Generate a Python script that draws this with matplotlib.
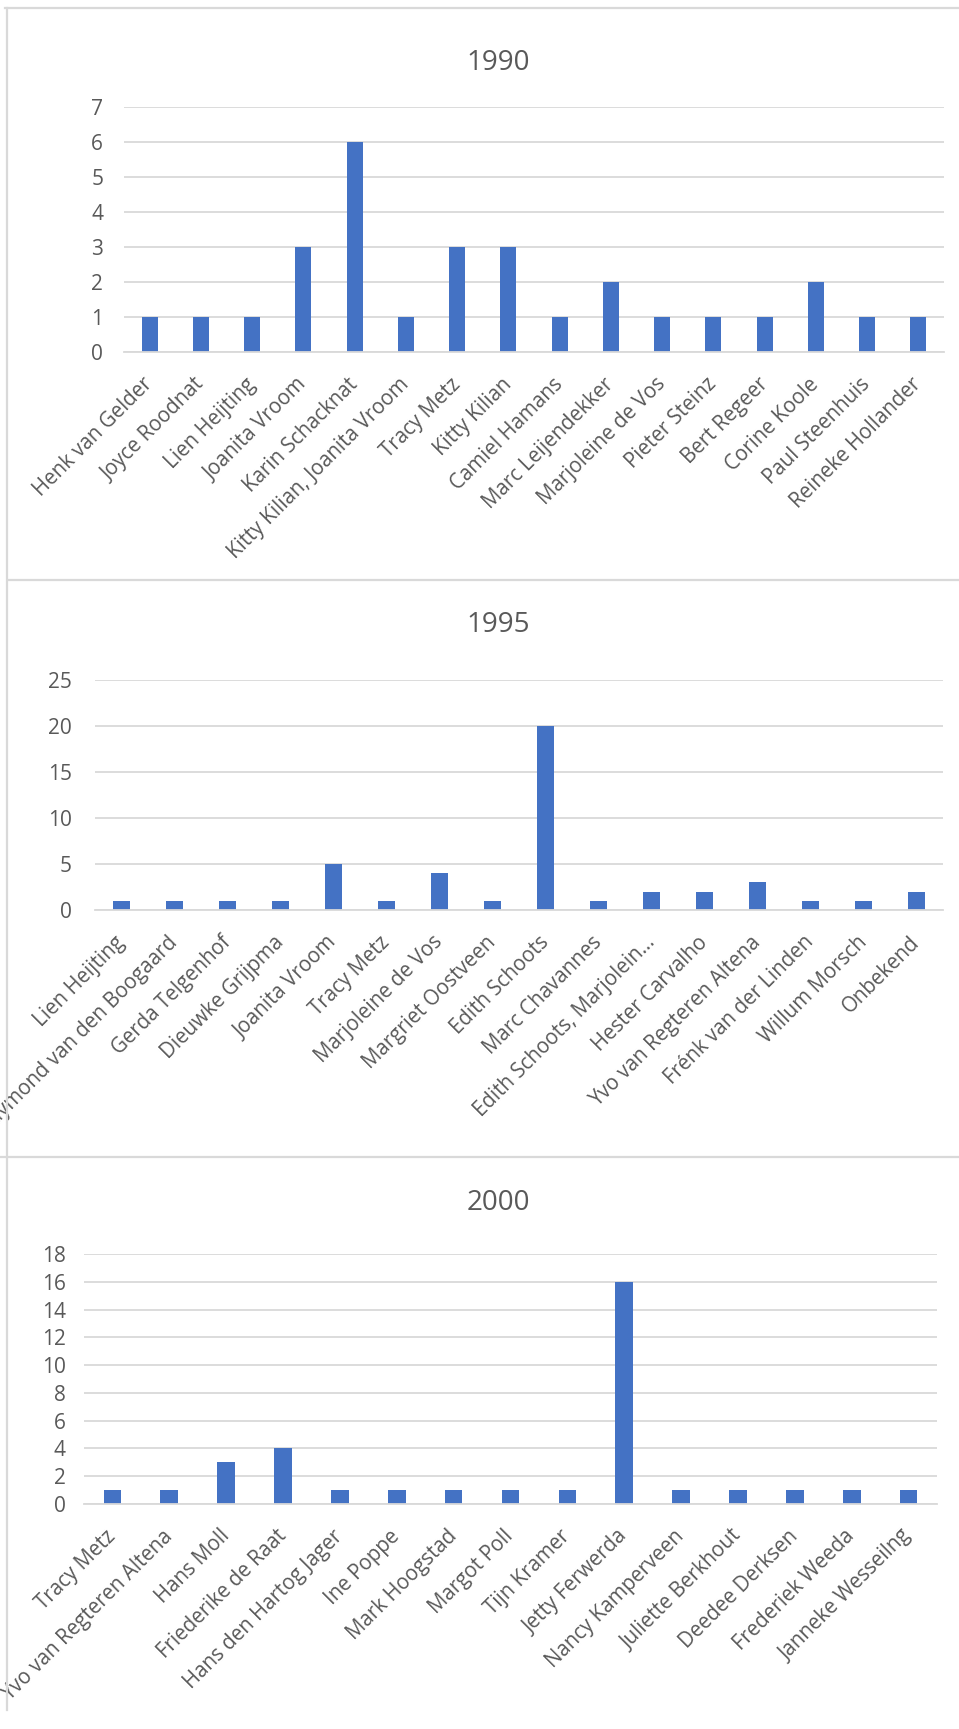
import matplotlib
matplotlib.use("Agg")
import matplotlib.pyplot as plt
from matplotlib.lines import Line2D
from matplotlib.transforms import ScaledTranslation

plt.rcParams['font.family'] = ['Open Sans', 'DejaVu Sans']

W, H = 959, 1729

# ---------------- data ----------------
names_1990 = ["Henk van Gelder", "Joyce Roodnat", "Lien Heijting", "Joanita Vroom",
              "Karin Schacknat", "Kitty Kilian, Joanita Vroom", "Tracy Metz", "Kitty Kilian",
              "Camiel Hamans", "Marc Leijendekker", "Marjoleine de Vos", "Pieter Steinz",
              "Bert Regeer", "Corine Koole", "Paul Steenhuis", "Reineke Hollander"]
vals_1990 = [1, 1, 1, 3, 6, 1, 3, 3, 1, 2, 1, 1, 1, 2, 1, 1]

names_1995 = ["Lien Heijting", "Raymond van den Boogaard", "Gerda Telgenhof", "Dieuwke Grijpma",
              "Joanita Vroom", "Tracy Metz", "Marjoleine de Vos", "Margriet Oostveen",
              "Edith Schoots", "Marc Chavannes", "Edith Schoots, Marjolein…", "Hester Carvalho",
              "Yvo van Regteren Altena", "Frénk van der Linden", "Willum Morsch", "Onbekend"]
vals_1995 = [1, 1, 1, 1, 5, 1, 4, 1, 20, 1, 2, 2, 3, 1, 1, 2]

names_2000 = ["Tracy Metz", "Yvo van Regteren Altena", "Hans Moll", "Friederike de Raat",
              "Hans den Hartog Jager", "Ine Poppe", "Mark Hoogstad", "Margot Poll",
              "Tijn Kramer", "Jetty Ferwerda", "Nancy Kamperveen", "Juliette Berkhout",
              "Deedee Derksen", "Frederiek Weeda", "Janneke Wesseilng"]
vals_2000 = [1, 1, 3, 4, 1, 1, 1, 1, 1, 16, 1, 1, 1, 1, 1]

titles = ["1990", "1995", "2000"]
yticks_1990 = [0, 1, 2, 3, 4, 5, 6, 7]
yticks_1995 = [0, 5, 10, 15, 20, 25]
yticks_2000 = [0, 2, 4, 6, 8, 10, 12, 14, 16, 18]

BAR = "#4472C4"
GRID = "#D9D9D9"
TXT = "#595959"

fig = plt.figure(figsize=(W / 100, H / 100), dpi=100)


def rect(left, top, right, bottom):
    return [left / W, 1 - bottom / H, (right - left) / W, (bottom - top) / H]


def panel(r, names, vals, yticks, title, title_y, ypad, xshift):
    ax = fig.add_axes(rect(*r))
    x = list(range(len(names)))
    ax.bar(x, vals, width=0.31, color=BAR, zorder=3)
    ax.set_xlim(-0.5, len(names) - 0.5)
    ax.set_ylim(yticks[0], yticks[-1])
    ax.set_yticks(yticks)
    ax.set_yticklabels([str(t) for t in yticks], fontsize=15, color=TXT)
    ax.set_xticks(x)
    labels = ax.set_xticklabels(names, rotation=45, ha="right", va="center",
                                rotation_mode="anchor", fontsize=14.8, color=TXT)
    off = ScaledTranslation(xshift / 100, 0, fig.dpi_scale_trans)
    for lab in labels:
        lab.set_transform(lab.get_transform() + off)
    ax.tick_params(axis="both", length=0)
    ax.tick_params(axis="y", pad=ypad)
    ax.tick_params(axis="x", pad=21)
    ax.grid(axis="y", color=GRID, linewidth=1.3, zorder=0)
    for s in ["top", "right", "left"]:
        ax.spines[s].set_visible(False)
    ax.spines["bottom"].set_color(GRID)
    ax.spines["bottom"].set_linewidth(1.3)
    ax.spines["bottom"].set_zorder(4)
    fig.text(498 / W, 1 - title_y / H, title, ha="center", va="center",
             fontsize=20, color=TXT)
    return ax


panel((124, 107, 944, 352), names_1990, vals_1990, yticks_1990, titles[0], 63, 15, 8)
panel((95, 680, 943, 910), names_1995, vals_1995, yticks_1995, titles[1], 625, 16.5, 8)
panel((84, 1254, 937, 1504), names_2000, vals_2000, yticks_2000, titles[2], 1203, 13, 12)

# chart borders
def hline(y, x0, x1):
    fig.add_artist(Line2D([x0 / W, x1 / W], [1 - y / H, 1 - y / H],
                          color=GRID, linewidth=1.6))

def vline(x, y0, y1):
    fig.add_artist(Line2D([x / W, x / W], [1 - y0 / H, 1 - y1 / H],
                          color=GRID, linewidth=1.6))

hline(8, 5, 959)
hline(580, 9, 959)
hline(1157, 0, 959)
vline(7, 8, 1710)

fig.savefig("out.png", dpi=100, facecolor="white")
